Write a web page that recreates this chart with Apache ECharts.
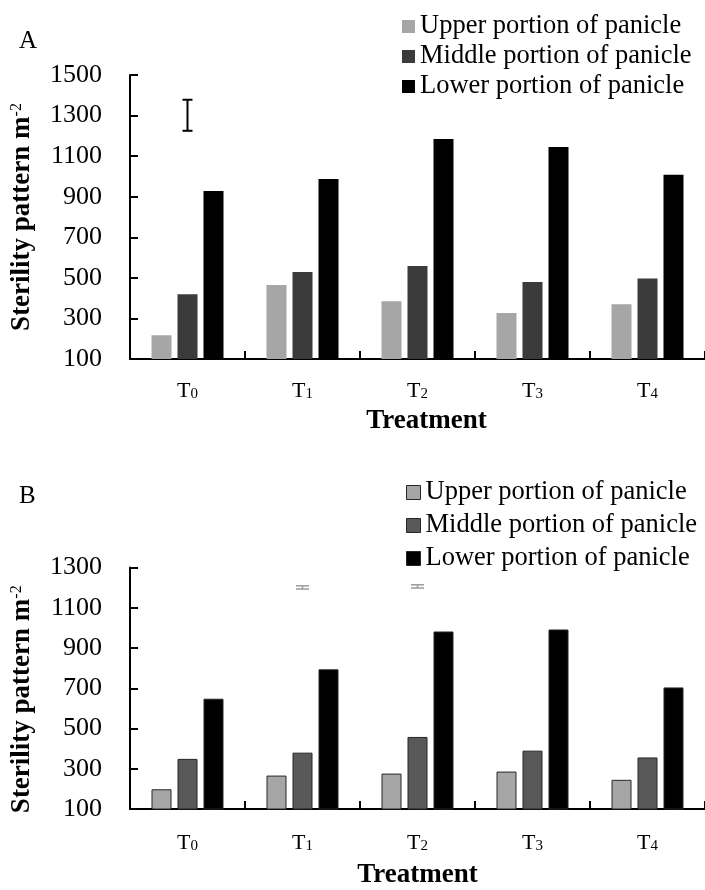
<!DOCTYPE html>
<html>
<head>
<meta charset="utf-8">
<script src="https://cdn.jsdelivr.net/npm/echarts@6/dist/echarts.min.js"></script>
<style>
html,body{margin:0;padding:0;background:#fff;}
#chart{width:705px;height:890px;}
</style>
</head>
<body>
<div id="chart"></div>
<script>
// ---- data ----
const categories = ['T0', 'T1', 'T2', 'T3', 'T4'];
const seriesNames = ['Upper portion of panicle', 'Middle portion of panicle', 'Lower portion of panicle'];

const upperA  = [217, 465, 385, 327, 370];
const middleA = [419, 529, 559, 480, 497];
const lowerA  = [928, 987, 1185, 1145, 1008];

const upperB  = [198, 266, 276, 286, 245];
const middleB = [349, 380, 458, 390, 356];
const lowerB  = [648, 794, 982, 992, 704];

// error bars: [category index, low, high]
const errorBarA = [[0, 1225, 1378]];
const errorBarB = [[1, 1193, 1209], [2, 1198, 1214]];

const yTicksA = {min: 100, max: 1500, interval: 200};
const yTicksB = {min: 100, max: 1300, interval: 200};

// ---- styling ----
const FONT = '"Liberation Serif", "Times New Roman", serif';
const colorsA = ['#a6a6a6', '#3b3b3b', '#000000'];
const colorsB = ['#a6a6a6', '#595959', '#000000'];

const chart = echarts.init(document.getElementById('chart'), null, {renderer: 'canvas'});

function xAxisCfg(gridIndex, labelMargin, nameGap, namePad) {
  return {
    gridIndex: gridIndex,
    type: 'category',
    data: categories,
    axisLine: {show: true, lineStyle: {color: '#000', width: 2}},
    axisTick: {show: true, inside: true, length: 8, lineStyle: {color: '#000', width: 2}},
    splitLine: {show: false},
    axisLabel: {
      margin: labelMargin,
      color: '#000',
      formatter: function (v) { return '{t|' + v.charAt(0) + '}{s|' + v.slice(1) + '}'; },
      rich: {
        t: {fontFamily: FONT, fontSize: 22, color: '#000', verticalAlign: 'bottom', lineHeight: 22},
        s: {fontFamily: FONT, fontSize: 15, color: '#000', verticalAlign: 'bottom', lineHeight: 15}
      }
    },
    name: 'Treatment',
    nameLocation: 'middle',
    nameGap: nameGap,
    nameTextStyle: {fontFamily: FONT, fontSize: 27, fontWeight: 'bold', color: '#000', padding: namePad}
  };
}

function yAxisCfg(gridIndex, ticks, namePad) {
  return {
    gridIndex: gridIndex,
    type: 'value',
    min: ticks.min,
    max: ticks.max,
    interval: ticks.interval,
    axisLine: {show: true, lineStyle: {color: '#000', width: 2}},
    axisTick: {show: true, inside: true, length: 8, lineStyle: {color: '#000', width: 2}},
    splitLine: {show: false},
    axisLabel: {margin: 28, fontFamily: FONT, fontSize: 26, color: '#000', formatter: function (v) { return String(v); }},
    name: 'Sterility pattern m{sup|-2}',
    nameLocation: 'middle',
    nameRotate: 90,
    nameGap: 94,
    nameTextStyle: {
      fontFamily: FONT, fontSize: 27, fontWeight: 'bold', color: '#000', padding: namePad,
      rich: {sup: {fontFamily: FONT, fontSize: 16, fontWeight: 'normal', color: '#000', verticalAlign: 'top', lineHeight: 15}}
    }
  };
}

function errRenderer(capHalf, stroke, lw) {
  return function (params, api) {
    const lo = api.coord([api.value(0), api.value(1)]);
    const hi = api.coord([api.value(0), api.value(2)]);
    const cx = lo[0];
    const st = {stroke: stroke, lineWidth: lw};
    return {
      type: 'group',
      children: [
        {type: 'line', shape: {x1: cx, y1: lo[1], x2: cx, y2: hi[1]}, style: st},
        {type: 'line', shape: {x1: cx - capHalf, y1: hi[1], x2: cx + capHalf, y2: hi[1]}, style: st},
        {type: 'line', shape: {x1: cx - capHalf, y1: lo[1], x2: cx + capHalf, y2: lo[1]}, style: st}
      ]
    };
  };
}

function barSeries(name, data, idx, color, border) {
  return {
    name: name,
    type: 'bar',
    xAxisIndex: idx,
    yAxisIndex: idx,
    data: data,
    barWidth: 20,
    barGap: '30%',
    itemStyle: border ? {color: color, borderColor: '#262626', borderWidth: 1} : {color: color},
    emphasis: {disabled: true},
    animation: false
  };
}

const option = {
  backgroundColor: '#fff',
  animation: false,
  title: [
    {text: 'A', left: 19, top: 29, padding: 0, textStyle: {fontFamily: FONT, fontSize: 25, fontWeight: 'normal', color: '#000'}},
    {text: 'B', left: 19, top: 484, padding: 0, textStyle: {fontFamily: FONT, fontSize: 25, fontWeight: 'normal', color: '#000'}}
  ],
  legend: [
    {
      left: 402, top: 13, padding: 0, orient: 'vertical',
      itemWidth: 13, itemHeight: 13, itemGap: 3, icon: 'rect',
      selectedMode: false,
      textStyle: {fontFamily: FONT, fontSize: 26.5, color: '#000', lineHeight: 26},
      data: seriesNames.map(function (n, i) { return {name: n, itemStyle: {color: colorsA[i], borderWidth: 0}}; })
    },
    {
      left: 406, top: 479, padding: 0, orient: 'vertical',
      itemWidth: 14, itemHeight: 14, itemGap: 6, icon: 'rect',
      selectedMode: false,
      textStyle: {fontFamily: FONT, fontSize: 26.5, color: '#000', lineHeight: 26},
      data: seriesNames.map(function (n, i) { return {name: n, itemStyle: {color: colorsB[i], borderColor: '#262626', borderWidth: 1}}; })
    }
  ],
  grid: [
    {left: 130, top: 75, width: 578, height: 284, containLabel: false},
    {left: 130, top: 567.5, width: 578, height: 245, containLabel: false}
  ],
  xAxis: [xAxisCfg(0, 21, 49, [0, 0, 0, 18]), xAxisCfg(1, 23, 53, [0, 0, 0, 0])],
  yAxis: [yAxisCfg(0, yTicksA, [0, 0, 0, 0]), yAxisCfg(1, yTicksB, [0, 22, 0, 0])],
  series: [
    barSeries(seriesNames[0], upperA, 0, colorsA[0], false),
    barSeries(seriesNames[1], middleA, 0, colorsA[1], false),
    barSeries(seriesNames[2], lowerA, 0, colorsA[2], false),
    barSeries(seriesNames[0], upperB, 1, colorsB[0], true),
    barSeries(seriesNames[1], middleB, 1, colorsB[1], true),
    barSeries(seriesNames[2], lowerB, 1, colorsB[2], true),
    {
      type: 'custom', xAxisIndex: 0, yAxisIndex: 0, data: errorBarA,
      encode: {x: 0, y: [1, 2]}, renderItem: errRenderer(5, '#000', 2), silent: true, z: 5
    },
    {
      type: 'custom', xAxisIndex: 1, yAxisIndex: 1, data: errorBarB,
      encode: {x: 0, y: [1, 2]}, renderItem: errRenderer(6.5, '#9a9a9a', 1.5), silent: true, z: 5
    }
  ]
};

chart.setOption(option);
</script>
</body>
</html>
